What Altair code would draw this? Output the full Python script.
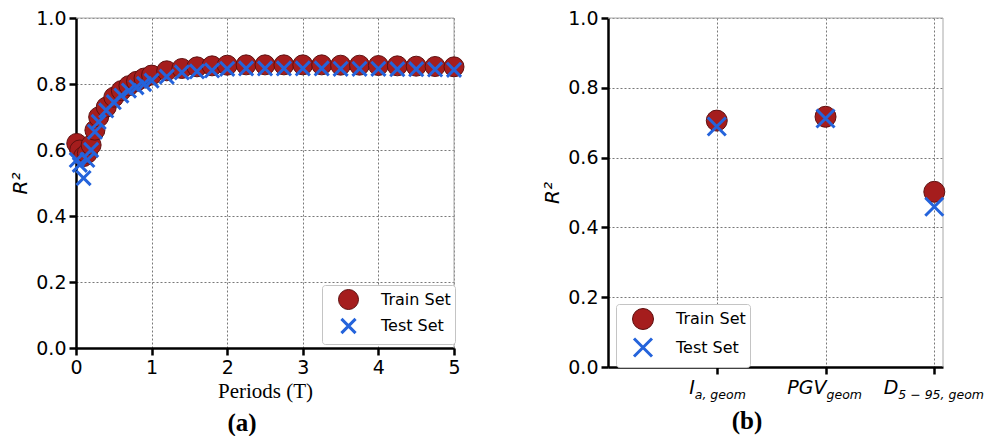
import altair as alt
import pandas as pd

# ---------------- data ----------------
periods = [0.01, 0.05, 0.1, 0.15, 0.2, 0.25, 0.3, 0.4, 0.5, 0.6, 0.7, 0.8, 0.9, 1.0,
           1.2, 1.4, 1.6, 1.8, 2.0, 2.25, 2.5, 2.75, 3.0, 3.25, 3.5, 3.75, 4.0,
           4.25, 4.5, 4.75, 5.0]
train_a = [0.62, 0.60, 0.58, 0.59, 0.615, 0.66, 0.70, 0.73, 0.76, 0.78, 0.795, 0.808,
           0.818, 0.827, 0.840, 0.847, 0.852, 0.855, 0.857, 0.858, 0.858, 0.858, 0.858,
           0.858, 0.857, 0.857, 0.856, 0.855, 0.854, 0.853, 0.852]
test_a = [0.57, 0.555, 0.515, 0.57, 0.60, 0.655, 0.685, 0.72, 0.745, 0.765, 0.78, 0.79,
          0.80, 0.81, 0.822, 0.835, 0.838, 0.841, 0.846, 0.847, 0.847, 0.847, 0.847,
          0.847, 0.846, 0.846, 0.846, 0.845, 0.845, 0.844, 0.843]

categories_main = ["I", "PGV", "D"]
categories_sub = ["a, geom", "geom", "5 − 95, geom"]
train_b = [0.706, 0.717, 0.502]
test_b = [0.689, 0.712, 0.459]

y_ticks = [0.0, 0.2, 0.4, 0.6, 0.8, 1.0]
x_ticks_a = [0, 1, 2, 3, 4, 5]
sets = ["Train Set", "Test Set"]

# ---------------- styling ----------------
RED = "#a51d1d"
RED_EDGE = "#5e1010"
BLUE = "#2463db"
XPATH = "M-1,-1L1,1M-1,1L1,-1"
FONT = "DejaVu Sans"
SPINE = "#a8a8a8"

W_A, H_A = 378, 330
W_B, H_B = 335, 349

GRID = dict(gridColor="#555555", gridDash=[2, 2], gridWidth=0.8)
TICKS = dict(tickColor="black", tickWidth=2.5, tickSize=7,
             domainColor="black", domainWidth=2.5, labelFlush=False)


def make_df(xvals, train, test):
    rows = [{"x": x, "r2": v, "set": "Train Set"} for x, v in zip(xvals, train)]
    rows += [{"x": x, "r2": v, "set": "Test Set"} for x, v in zip(xvals, test)]
    return pd.DataFrame(rows)


def y_axis():
    return alt.Axis(values=y_ticks, format=".1f", title="R²", titleFont=FONT,
                    titleFontStyle="italic", titleFontWeight="normal", titleFontSize=20,
                    titleColor="black", titlePadding=5,
                    labelFont=FONT, labelFontSize=19, labelColor="black", labelPadding=3,
                    **TICKS, **GRID)


def point_layer(df, x_enc, sizes, lx, ly):
    leg = alt.Legend(orient="none", legendX=lx, legendY=ly, title=None,
                     fillColor="white", strokeColor="#c4c4c4", cornerRadius=3,
                     padding=4, symbolOffset=12, labelOffset=22, zindex=2,
                     labelFont=FONT, labelFontSize=16, labelColor="black", rowPadding=0)
    return alt.Chart(df).mark_point(opacity=1, filled=False).encode(
        x=x_enc,
        y=alt.Y("r2:Q", scale=alt.Scale(domain=[0, 1], nice=False), axis=y_axis()),
        fill=alt.Fill("set:N", scale=alt.Scale(domain=sets, range=[RED, "transparent"]), legend=leg),
        stroke=alt.Stroke("set:N", scale=alt.Scale(domain=sets, range=[RED_EDGE, BLUE]), legend=leg),
        shape=alt.Shape("set:N", scale=alt.Scale(domain=sets, range=["circle", XPATH]), legend=leg),
        size=alt.Size("set:N", scale=alt.Scale(domain=sets, range=sizes), legend=leg),
        strokeWidth=alt.StrokeWidth("set:N", scale=alt.Scale(domain=sets, range=[1, 3]), legend=leg),
    )


def spines(w, h):
    top = alt.Chart(pd.DataFrame({"k": [0]})).mark_rule(color=SPINE, strokeWidth=1).encode(
        x=alt.value(0), x2=alt.value(w), y=alt.value(0))
    right = alt.Chart(pd.DataFrame({"k": [0]})).mark_rule(color=SPINE, strokeWidth=1).encode(
        x=alt.value(w), y=alt.value(0), y2=alt.value(h))
    return [top, right]


# ---------------- panel (a) ----------------
df_a = make_df(periods, train_a, test_a)
x_a = alt.X("x:Q", scale=alt.Scale(domain=[0, 5], nice=False),
            axis=alt.Axis(values=x_ticks_a, format="d", title="Periods (T)",
                          titleFont="Liberation Serif", titleFontSize=21,
                          titleFontWeight="normal", titleColor="black", titlePadding=3,
                          labelFont=FONT, labelFontSize=19, labelColor="black", labelPadding=3,
                          **TICKS, **GRID))
pts_a = point_layer(df_a, x_a, [400, 200], 246, 267)
lab_a = alt.Chart(pd.DataFrame({"t": ["(a)"]})).mark_text(
    font="Liberation Serif", fontSize=25, fontWeight="bold", color="black",
    align="center", baseline="alphabetic").encode(
    text="t:N", x=alt.value(166), y=alt.value(413))
panel_a = alt.layer(*spines(W_A, H_A), pts_a, lab_a).properties(width=W_A, height=H_A)

# ---------------- panel (b) ----------------
idx = list(range(len(train_b)))
df_b = make_df(idx, train_b, test_b)
x_b = alt.X("x:Q", scale=alt.Scale(domain=[-1, 2.08], nice=False, zero=False),
            axis=alt.Axis(values=idx, labels=False, title=None, **TICKS, **GRID))
pts_b = point_layer(df_b, x_b, [441, 324], 8, 286)

df_lab = pd.DataFrame({"x": idx, "main": categories_main, "sub": categories_sub})
label_split = [-22, 1, -36]
label_layers = []
for i, dx in enumerate(label_split):
    base = alt.Chart(df_lab).transform_filter(alt.datum.x == i)
    label_layers.append(base.mark_text(font=FONT, fontSize=19, fontStyle="italic",
                                       color="black", align="right", baseline="alphabetic",
                                       dx=dx).encode(
        x=alt.X("x:Q"), y=alt.value(H_B + 27), text="main:N"))
    label_layers.append(base.mark_text(font=FONT, fontSize=12.5, fontStyle="italic",
                                       color="black", align="left", baseline="alphabetic",
                                       dx=dx).encode(
        x=alt.X("x:Q"), y=alt.value(H_B + 32), text="sub:N"))
lab_b = alt.Chart(pd.DataFrame({"t": ["(b)"]})).mark_text(
    font="Liberation Serif", fontSize=25, fontWeight="bold", color="black",
    align="center", baseline="alphabetic").encode(
    text="t:N", x=alt.value(139), y=alt.value(411))
panel_b = alt.layer(*spines(W_B, H_B), pts_b, *label_layers, lab_b).properties(width=W_B, height=H_B)

chart = alt.hconcat(panel_a, panel_b, spacing=74).resolve_scale(
    fill="independent", stroke="independent", shape="independent",
    size="independent", strokeWidth="independent"
).resolve_legend(
    fill="independent", stroke="independent", shape="independent",
    size="independent", strokeWidth="independent"
).properties(
    padding={"left": 2, "top": 1, "right": 0, "bottom": 0}
).configure_view(stroke=None)

chart.save("out.html", embed_options={"renderer": "svg", "actions": False})
